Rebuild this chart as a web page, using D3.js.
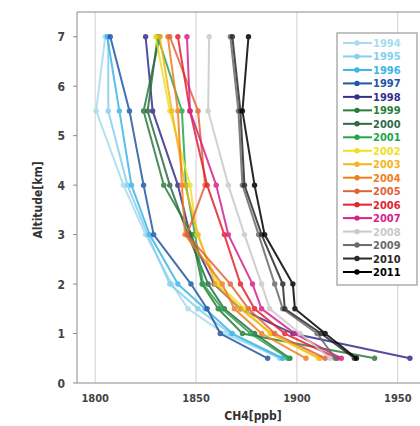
<!DOCTYPE html>
<html>
<head>
<meta charset="utf-8">
<script src="https://cdn.jsdelivr.net/npm/d3@7"></script>
<style>
  body { margin: 0; background: #fff; }
  svg text { font-family: "DejaVu Sans Condensed", "Liberation Sans Narrow", sans-serif; font-stretch: condensed; font-weight: bold; }
</style>
</head>
<body>
<svg></svg>
<script>
// data
const years = ["1994","1995","1996","1997","1998","1999","2000","2001","2002","2003","2004","2005","2006","2007","2008","2009","2010","2011"];
const altitudes = [0.5, 1, 1.5, 2, 3, 4, 5.5, 7];
// CH4 (ppb) at each altitude above, per year
const ch4_1994 = [1892.5, 1864, 1846, 1838, 1825, 1814, 1800.5, 1805];
const ch4_1995 = [1891.5, 1867, 1851, 1837, 1826, 1816, 1806.5, 1806.5];
const ch4_1996 = [1893, 1868, 1854.5, 1841, 1827, 1818, 1812, 1806];
const ch4_1997 = [1885.5, 1862, 1855.5, 1847.5, 1829, 1824, 1817, 1807.5];
const ch4_1998 = [1956, 1898, 1872, 1859, 1847, 1841, 1828.5, 1825];
const ch4_1999 = [1938.5, 1873, 1861, 1853, 1848, 1834, 1824, 1832];
const ch4_2000 = [1896.5, 1879, 1864, 1856, 1846, 1837, 1826, 1831];
const ch4_2001 = [1895.5, 1877, 1863, 1853.5, 1849.5, 1845, 1843, 1831];
const ch4_2002 = [1910.5, 1886.5, 1874, 1861, 1850.5, 1847, 1837, 1830];
const ch4_2003 = [1911.5, 1887.5, 1872, 1859.5, 1851, 1844.5, 1838, 1832];
const ch4_2004 = [1904.5, 1882.5, 1869, 1863, 1844.5, 1843, 1841, 1836];
const ch4_2005 = [1914, 1889, 1876, 1867, 1845.5, 1854.5, 1851, 1837];
const ch4_2006 = [1920, 1894, 1879, 1872, 1864, 1855.5, 1847, 1841];
const ch4_2007 = [1922, 1899, 1882.5, 1878, 1866, 1860, 1847, 1845.5];
const ch4_2008 = [1916.5, 1901.5, 1886.5, 1882.5, 1874, 1866, 1856, 1856.5];
const ch4_2009 = [1919, 1910, 1893, 1889, 1881, 1873, 1871, 1867];
const ch4_2010 = [1928.5, 1912, 1894, 1893, 1882.5, 1874, 1872, 1868];
const ch4_2011 = [1929.5, 1914, 1899, 1898, 1884, 1879, 1873, 1876];
const xTicks = [1800, 1850, 1900, 1950];
const yTicks = [0, 1, 2, 3, 4, 5, 6, 7];

const allSeries = [ch4_1994, ch4_1995, ch4_1996, ch4_1997, ch4_1998, ch4_1999, ch4_2000, ch4_2001, ch4_2002,
  ch4_2003, ch4_2004, ch4_2005, ch4_2006, ch4_2007, ch4_2008, ch4_2009, ch4_2010, ch4_2011];

const colors = ["#a6dcf0","#84d0ee","#3db6e6","#2356a6","#35308c","#2b7d3e","#2e6a47","#25a64c","#f0e025",
  "#f5b51e","#f0801f","#e4623a","#e3222e","#d6228c","#c9c9c9","#6a6a6a","#2a2a2a","#000000"];

// setting
const W = 420, H = 426;
const svg = d3.select("svg").attr("width", W).attr("height", H);

const x = d3.scaleLinear().domain([1791, 1962]).range([77, 422]);
const y = d3.scaleLinear().domain([0, 7.5]).range([383, 12]);

// grid
svg.append("g")
  .selectAll("line")
  .data(xTicks)
  .join("line")
  .attr("x1", d => x(d)).attr("x2", d => x(d))
  .attr("y1", y(7.5)).attr("y2", y(0))
  .attr("stroke", "#cfcfcf").attr("stroke-width", 1);

// frame
svg.append("line").attr("x1", x.range()[0]).attr("x2", W).attr("y1", y(7.5)).attr("y2", y(7.5)).attr("stroke", "#8a8a8a");
svg.append("line").attr("x1", x.range()[0]).attr("x2", W).attr("y1", y(0)).attr("y2", y(0)).attr("stroke", "#8a8a8a");
svg.append("line").attr("x1", x.range()[0]).attr("x2", x.range()[0]).attr("y1", y(7.5)).attr("y2", y(0)).attr("stroke", "#8a8a8a");

// y ticks
const yg = svg.append("g");
yg.selectAll("line")
  .data(yTicks)
  .join("line")
  .attr("x1", x.range()[0] - 4).attr("x2", x.range()[0])
  .attr("y1", d => y(d)).attr("y2", d => y(d))
  .attr("stroke", "#8a8a8a");
yg.selectAll("text")
  .data(yTicks)
  .join("text")
  .text(d => d)
  .attr("x", 65)
  .attr("y", d => y(d) + 4.5)
  .attr("text-anchor", "end")
  .attr("font-size", 12)
  .attr("fill", "#444");

// x tick labels
svg.append("g")
  .selectAll("text")
  .data(xTicks)
  .join("text")
  .text(d => d)
  .attr("x", d => x(d))
  .attr("y", 402)
  .attr("text-anchor", "middle")
  .attr("font-size", 11)
  .attr("fill", "#444");

// axis titles
svg.append("text").text("CH4[ppb]")
  .attr("x", 253).attr("y", 420)
  .attr("text-anchor", "middle").attr("font-size", 12).attr("fill", "#333");
svg.append("text").text("Altitude[km]")
  .attr("transform", "translate(42,200) rotate(-90)")
  .attr("text-anchor", "middle").attr("font-size", 12).attr("fill", "#333");

// profiles
const line = d3.line()
  .x(d => x(d[0]))
  .y(d => y(d[1]));

const profiles = svg.append("g");
allSeries.forEach(function(vals, i) {
  const pts = vals.map((v, j) => [v, altitudes[j]]);
  const g = profiles.append("g").attr("opacity", 0.85);
  g.append("path")
    .attr("d", line(pts))
    .attr("fill", "none")
    .attr("stroke", colors[i])
    .attr("stroke-width", 2);
  g.selectAll("circle")
    .data(pts)
    .join("circle")
    .attr("cx", d => x(d[0]))
    .attr("cy", d => y(d[1]))
    .attr("r", 2.7)
    .attr("fill", colors[i]);
});

// legend
const lg = svg.append("g").attr("transform", "translate(337,33)");
lg.append("rect")
  .attr("width", 80).attr("height", 252)
  .attr("fill", "#fff").attr("stroke", "#9a9a9a").attr("stroke-width", 1.2);
const ly = d3.scaleLinear().domain([0, years.length - 1]).range([10, 239]);
years.forEach(function(yr, i) {
  lg.append("line")
    .attr("x1", 6).attr("x2", 35)
    .attr("y1", ly(i)).attr("y2", ly(i))
    .attr("stroke", colors[i]).attr("stroke-width", 2);
  lg.append("circle")
    .attr("cx", 20).attr("cy", ly(i)).attr("r", 2.7)
    .attr("fill", colors[i]);
  lg.append("text")
    .text(yr)
    .attr("x", 36).attr("y", ly(i) + 4)
    .attr("font-size", 11)
    .attr("fill", colors[i]);
});
</script>
</body>
</html>
